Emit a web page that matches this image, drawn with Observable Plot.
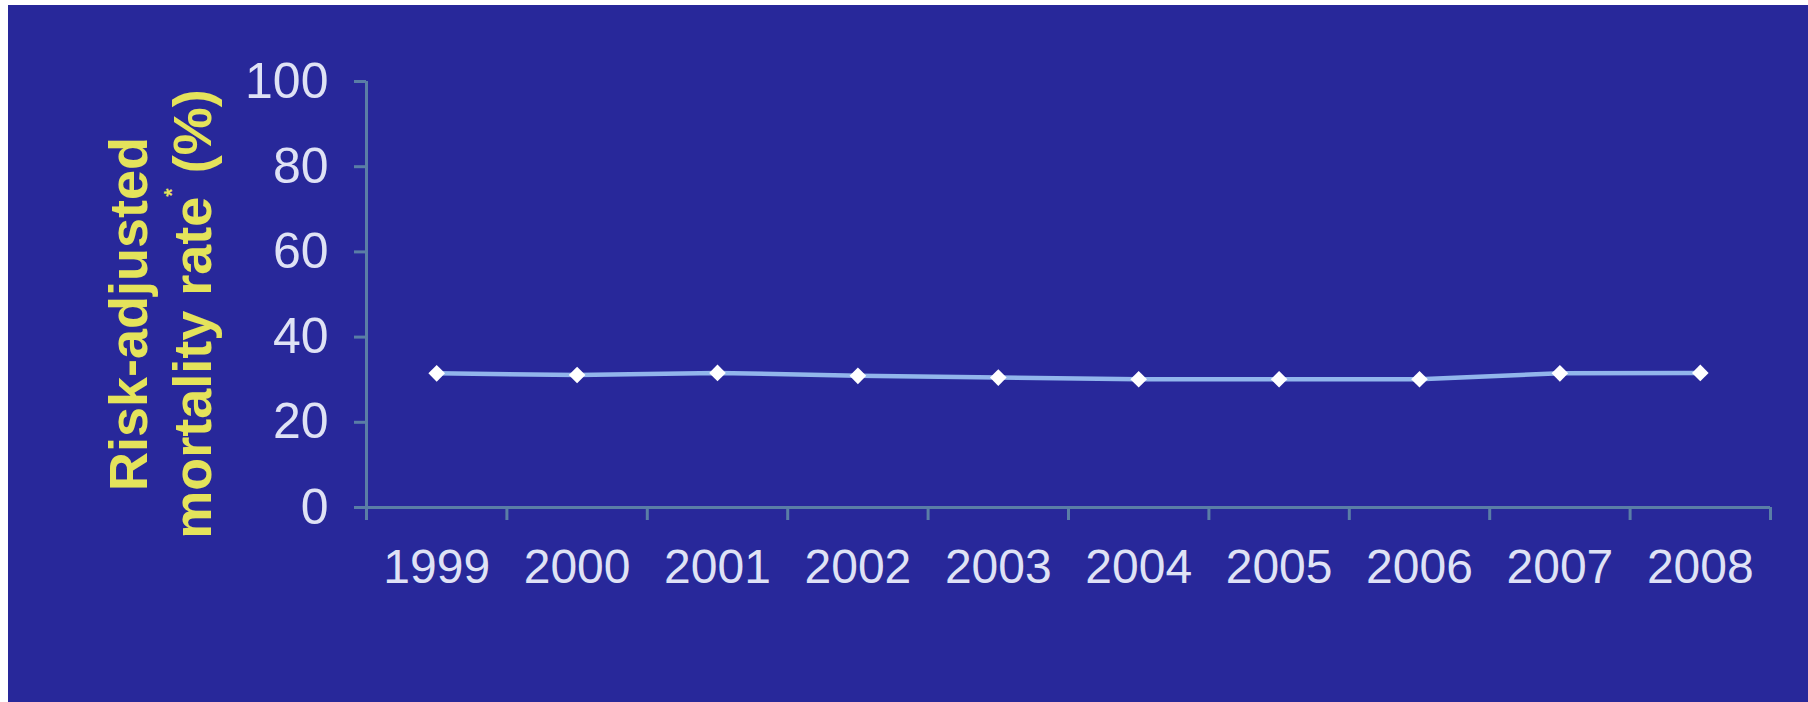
<!DOCTYPE html>
<html>
<head>
<meta charset="utf-8">
<script src="https://cdn.jsdelivr.net/npm/d3@7"></script>
<script src="https://cdn.jsdelivr.net/npm/@observablehq/plot@0.6"></script>
<style>
  html, body { margin: 0; padding: 0; background: #ffffff; width: 1808px; height: 702px; overflow: hidden; }
  #frame { position: absolute; left: 8px; top: 5px; width: 1800px; height: 697px; background: #28289a; }
  #ytitle {
    position: absolute; width: 600px; height: 128px; left: -148px; top: 245px;
    transform: rotate(-90deg); transform-origin: 50% 50%;
    text-align: center; font-family: "Liberation Sans", Arial, sans-serif; font-weight: bold;
    font-size: 54px; line-height: 64px; color: #e4e35b; white-space: nowrap;
  }
  #ytitle sup { font-size: 0.4em; line-height: 0; vertical-align: 1.5em; }
</style>
</head>
<body>
<div id="frame"><div id="chart"></div><div id="ytitle">Risk-adjusted<br>mortality rate<sup>*</sup> (%)</div></div>
<script>
const years = [1999, 2000, 2001, 2002, 2003, 2004, 2005, 2006, 2007, 2008];
const mortality = [31.5, 31.1, 31.6, 30.9, 30.5, 30.1, 30.1, 30.1, 31.5, 31.6];
const yTicks = [0, 20, 40, 60, 80, 100];

const data = years.map((year, i) => ({year, value: mortality[i]}));
const boundaries = years.map(y => y - 0.5).concat([years[years.length - 1] + 0.5]);

const axisColor = "#5a7ea6";
const labelColor = "#dfe2f5";

const chart = Plot.plot({
  width: 1800,
  height: 697,
  marginLeft: 358,
  marginRight: 38,
  marginTop: 76,
  marginBottom: 195,
  style: {background: "#28289a", fontFamily: "'Liberation Sans', Arial, sans-serif", fontSize: "48px"},
  x: {type: "linear", domain: [boundaries[0], boundaries[boundaries.length - 1]]},
  y: {domain: [0, 100]},
  marks: [
    Plot.axisY(yTicks, {tickSize: 12, tickPadding: 26, fontSize: 50, stroke: axisColor, strokeWidth: 3, fill: labelColor, label: null}),
    Plot.axisX(boundaries, {tickSize: 13, tickFormat: () => "", stroke: axisColor, strokeWidth: 3, label: null}),
    Plot.axisX(years, {tickSize: 0, tickPadding: 41, fontSize: 48, tickFormat: d => String(d), fill: labelColor, label: null}),
    Plot.ruleY([0], {stroke: axisColor, strokeWidth: 3}),
    Plot.ruleX([boundaries[0]], {stroke: axisColor, strokeWidth: 3}),
    Plot.line(data, {x: "year", y: "value", stroke: "#92b6ec", strokeWidth: 4.5}),
    Plot.dot(data, {x: "year", y: "value", symbol: "diamond2", fill: "#ffffff", stroke: "none", r: 7.5})
  ]
});
document.getElementById("chart").appendChild(chart);
</script>
</body>
</html>
